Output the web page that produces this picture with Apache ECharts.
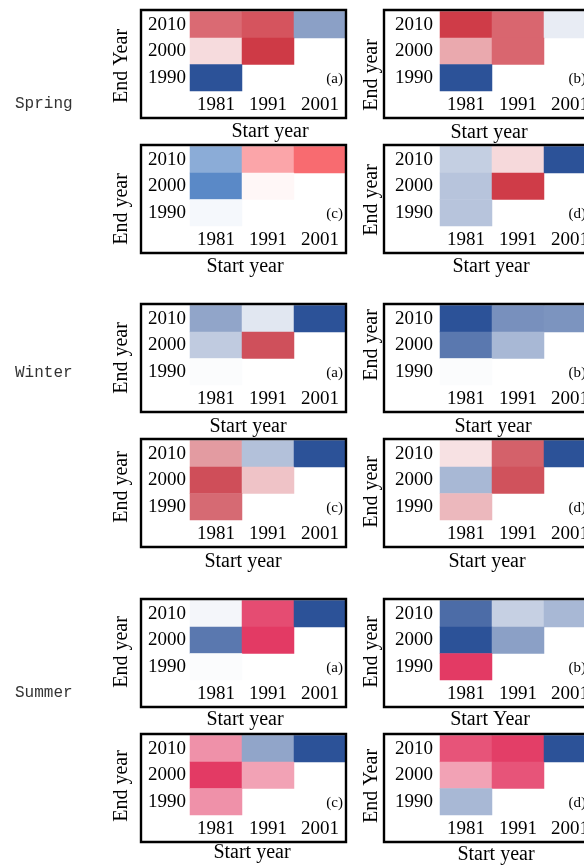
<!DOCTYPE html>
<html><head><meta charset="utf-8">
<script src="https://cdn.jsdelivr.net/npm/echarts@6/dist/echarts.min.js"></script>
<style>html,body{margin:0;padding:0;background:#fff}#c{width:584px;height:866px}</style>
</head><body><div id="c"></div>
<script>
// ---------- data ----------
const startYears = ['1981', '1991', '2001'];
const endYears = ['1990', '2000', '2010'];
const seasons = ['Spring', 'Winter', 'Summer'];
const panelLetters = ['(a)', '(b)', '(c)', '(d)'];
// each matrix: rows = end year 2010, 2000, 1990 ; cols = start year 1981, 1991, 2001
const springA = [[0.74, 0.85, -0.55], [0.18, 0.98, null], [-1.00, null, null]];
const springB = [[0.97, 0.76, -0.11], [0.43, 0.76, null], [-1.00, null, null]];
const springC = [[-0.60, 0.55, 0.91], [-0.85, 0.05, null], [-0.05, null, null]];
const springD = [[-0.28, 0.19, -1.00], [-0.34, 0.97, null], [-0.34, null, null]];
const winterA = [[-0.52, -0.14, -1.00], [-0.30, 0.94, null], [-0.02, null, null]];
const winterB = [[-1.00, -0.64, -0.62], [-0.78, -0.41, null], [-0.02, null, null]];
const winterC = [[0.54, -0.36, -1.00], [0.95, 0.32, null], [0.80, null, null]];
const winterD = [[0.16, 0.85, -1.00], [-0.41, 0.93, null], [0.38, null, null]];
const summerA = [[-0.05, 0.88, -1.00], [-0.78, 0.97, null], [-0.02, null, null]];
const summerB = [[-0.85, -0.27, -0.41], [-1.00, -0.55, null], [0.97, null, null]];
const summerC = [[0.54, -0.52, -1.00], [0.97, 0.46, null], [0.54, null, null]];
const summerD = [[0.84, 0.95, -1.00], [0.46, 0.84, null], [-0.41, null, null]];
const panels = [springA, springB, springC, springD, winterA, winterB, winterC, winterD, summerA, summerB, summerC, summerD];
const yTitles = ['End Year', 'End year', 'End year', 'End year', 'End year', 'End year', 'End year', 'End year', 'End year', 'End year', 'End year', 'End Year'];
const xTitles = ['Start year', 'Start year', 'Start year', 'Start year', 'Start year', 'Start year', 'Start year', 'Start year', 'Start year', 'Start Year', 'Start year', 'Start year'];

// ---------- layout (styles / positions) ----------
const boxTops = [10, 10, 145, 145, 304, 304, 439, 439, 599, 599, 734, 734];
const yTitleY = [66, 75, 209, 200, 358, 345, 487, 492, 652, 652, 786, 786];
const xTitleX = [270, 489, 245, 491, 248, 493, 243, 487, 245, 490, 252, 496];
const xTitleY = [132, 133, 267, 267, 427, 427, 562, 562, 720, 720, 853, 855];
const seasonY = [104, 373, 693];
const SERIF = '"Liberation Serif", "Times New Roman", serif';

const grids = [], xAxes = [], yAxes = [], series = [], graphic = [];
panels.forEach((m, i) => {
  const right = i % 2 === 1;
  const bx = right ? 384 : 141;
  const by = boxTops[i];
  const gl = right ? 440 : 190;
  const gw = 156;
  grids.push({ left: gl, top: by + 1.5, width: gw, height: 79.5, containLabel: false, outerBoundsMode: 'none' });
  xAxes.push({
    type: 'category', gridIndex: i, data: startYears, position: 'bottom',
    axisLine: { show: false }, axisTick: { show: false }, splitLine: { show: false }, splitArea: { show: false },
    axisLabel: { color: '#000', fontFamily: SERIF, fontSize: 19, margin: 5 }
  });
  yAxes.push({
    type: 'category', gridIndex: i, data: endYears,
    axisLine: { show: false }, axisTick: { show: false }, splitLine: { show: false }, splitArea: { show: false },
    axisLabel: { color: '#000', fontFamily: SERIF, fontSize: 19, margin: right ? 7 : 4 }
  });
  const data = [];
  m.forEach((row, r) => row.forEach((v, c) => { if (v !== null) data.push([c, 2 - r, v]); }));
  series.push({
    type: 'heatmap', xAxisIndex: i, yAxisIndex: i, data: data,
    itemStyle: { borderWidth: 0 }, emphasis: { disabled: true }, label: { show: false }
  });
  graphic.push({
    type: 'rect', z: 100, shape: { x: bx, y: by, width: 205, height: 108 },
    style: { fill: 'none', stroke: '#000', lineWidth: 2.4 }
  });
  graphic.push({
    type: 'text', z: 100, x: bx + 202, y: by + 69,
    style: { text: panelLetters[i % 4], font: '15px ' + SERIF, fill: '#000', textAlign: 'right', textVerticalAlign: 'middle' }
  });
  graphic.push({
    type: 'text', z: 100, x: right ? 372 : 122, y: yTitleY[i], rotation: Math.PI / 2,
    style: { text: yTitles[i], font: '20px ' + SERIF, fill: '#000', textAlign: 'center', textVerticalAlign: 'middle' }
  });
  graphic.push({
    type: 'text', z: 100, x: xTitleX[i], y: xTitleY[i],
    style: { text: xTitles[i], font: '20px ' + SERIF, fill: '#000', textAlign: 'center', textVerticalAlign: 'middle' }
  });
});
seasons.forEach((s, k) => {
  graphic.push({
    type: 'text', z: 100, x: 15, y: seasonY[k],
    style: { text: s, font: '16px "Liberation Mono", monospace', fill: '#333', textAlign: 'left', textVerticalAlign: 'middle' }
  });
});

const vmBase = { type: 'continuous', min: -1, max: 1, show: false, calculable: false };
const option = {
  animation: false,
  backgroundColor: '#fff',
  textStyle: { fontFamily: SERIF },
  grid: grids, xAxis: xAxes, yAxis: yAxes, series: series,
  visualMap: [
    Object.assign({}, vmBase, { seriesIndex: [0, 1, 3], inRange: { color: ['#2c5298', '#ffffff', '#cd3642'] } }),
    Object.assign({}, vmBase, { seriesIndex: [2], inRange: { color: ['#3d74bd', '#ffffff', '#f75c62'] } }),
    Object.assign({}, vmBase, { seriesIndex: [4, 5, 6, 7], inRange: { color: ['#2c5298', '#ffffff', '#cc4550'] } }),
    Object.assign({}, vmBase, { seriesIndex: [8, 9, 10, 11], inRange: { color: ['#2c5298', '#ffffff', '#e2345f'] } })
  ],
  graphic: graphic
};
const chart = echarts.init(document.getElementById('c'), null, { renderer: 'canvas' });
chart.setOption(option);
</script></body></html>
